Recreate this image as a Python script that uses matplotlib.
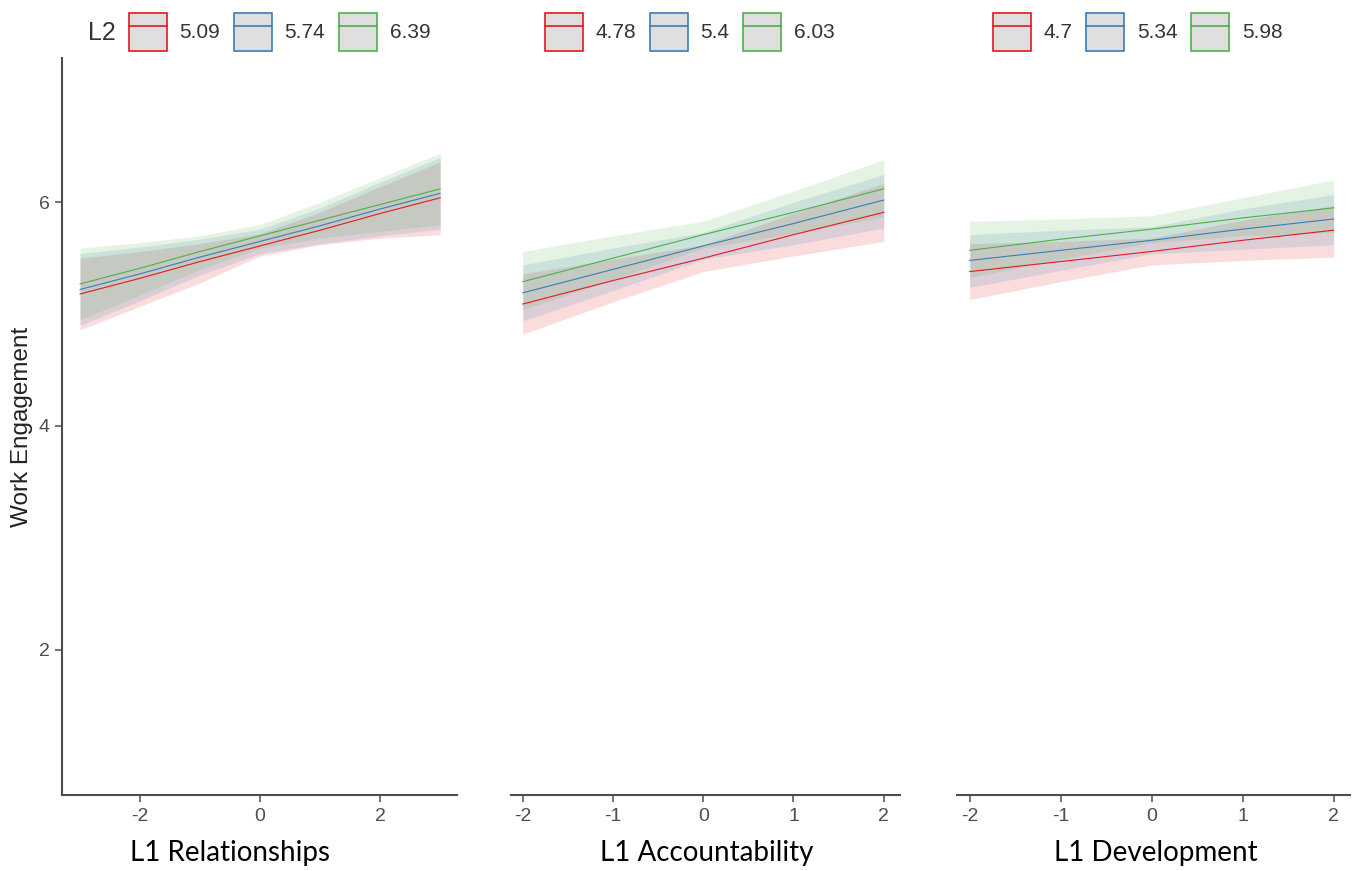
import matplotlib.pyplot as plt
from matplotlib.lines import Line2D
from matplotlib.patches import Patch

plt.rcParams['axes.unicode_minus'] = False

# predicted work engagement (line, lower CI, upper CI) for three L2 levels
rel_x = [-3, -2, -1, 0, 1, 2, 3]
rel_levels = ['5.09', '5.74', '6.39']
rel_fit = [[5.18, 5.32, 5.47, 5.61, 5.75, 5.90, 6.04],
           [5.22, 5.36, 5.51, 5.65, 5.79, 5.94, 6.08],
           [5.27, 5.41, 5.56, 5.70, 5.84, 5.98, 6.12]]
rel_lo = [[4.86, 5.07, 5.28, 5.52, 5.62, 5.68, 5.71],
          [4.90, 5.12, 5.35, 5.54, 5.63, 5.70, 5.76],
          [4.95, 5.17, 5.40, 5.59, 5.68, 5.74, 5.80]]
rel_hi = [[5.50, 5.56, 5.63, 5.72, 5.91, 6.14, 6.36],
          [5.54, 5.60, 5.67, 5.76, 5.95, 6.18, 6.40],
          [5.59, 5.64, 5.70, 5.80, 6.00, 6.22, 6.44]]

acc_x = [-2, -1, 0, 1, 2]
acc_levels = ['4.78', '5.4', '6.03']
acc_fit = [[5.09, 5.30, 5.50, 5.71, 5.91],
           [5.19, 5.40, 5.61, 5.81, 6.02],
           [5.29, 5.50, 5.71, 5.91, 6.12]]
acc_lo = [[4.82, 5.11, 5.38, 5.52, 5.65],
          [4.94, 5.21, 5.49, 5.62, 5.77],
          [5.04, 5.31, 5.59, 5.72, 5.87]]
acc_hi = [[5.36, 5.49, 5.62, 5.90, 6.17],
          [5.44, 5.59, 5.73, 6.00, 6.25],
          [5.56, 5.70, 5.83, 6.10, 6.38]]

dev_x = [-2, -1, 0, 1, 2]
dev_levels = ['4.7', '5.34', '5.98']
dev_fit = [[5.38, 5.47, 5.56, 5.66, 5.75],
           [5.48, 5.57, 5.66, 5.76, 5.85],
           [5.57, 5.67, 5.76, 5.86, 5.95]]
dev_lo = [[5.13, 5.29, 5.44, 5.48, 5.51],
          [5.24, 5.39, 5.54, 5.58, 5.62],
          [5.33, 5.49, 5.64, 5.70, 5.73]]
dev_hi = [[5.63, 5.65, 5.68, 5.84, 5.97],
          [5.71, 5.75, 5.78, 5.94, 6.07],
          [5.83, 5.85, 5.88, 6.04, 6.20]]

colors = ['#E41A1C', '#377EB8', '#4DAF4A']
axis_col = '#4d4d4d'

W, H = 1360, 871
fig = plt.figure(figsize=(W / 100, H / 100), dpi=100)

panels = [
    # left, right (px), xlim, ticks, data, x title, title centre (px), legend x (px)
    (62, 457, (-3.3, 3.28), [-2, 0, 2], rel_x, rel_fit, rel_lo, rel_hi, rel_levels,
     'L1 Relationships', 230, 129),
    (511, 900, (-2.13, 2.18), [-2, -1, 0, 1, 2], acc_x, acc_fit, acc_lo, acc_hi, acc_levels,
     'L1 Accountability', 707, 545),
    (957, 1350, (-2.14, 2.18), [-2, -1, 0, 1, 2], dev_x, dev_fit, dev_lo, dev_hi, dev_levels,
     'L1 Development', 1156, 993),
]

top, bottom = 58, 795
for i, (l, r, xlim, ticks, x, fit, lo, hi, levels, title, tx, lx) in enumerate(panels):
    ax = fig.add_axes([l / W, 1 - bottom / H, (r - l) / W, (bottom - top) / H])
    for k in range(3):
        ax.fill_between(x, lo[k], hi[k], color=colors[k], alpha=0.15, lw=0)
    for k in range(3):
        ax.plot(x, fit[k], color=colors[k], lw=0.8)

    ax.set_xlim(*xlim)
    ax.set_ylim(0.70, 7.29)
    ax.set_xticks(ticks)
    ax.set_yticks([2, 4, 6])
    for s in ['top', 'right']:
        ax.spines[s].set_visible(False)
    for s in ['left', 'bottom']:
        ax.spines[s].set_color(axis_col)
        ax.spines[s].set_linewidth(1.5)
    ax.tick_params(colors=axis_col, length=5, width=1.1, labelsize=14,
                   labelcolor='#4d4d4d', pad=4)
    for lab in ax.get_xticklabels() + ax.get_yticklabels():
        lab.set_family('Liberation Sans')
    if i == 0:
        ax.set_ylabel('Work Engagement', fontsize=17.5, color='#222222',
                      family='Liberation Sans', labelpad=4)
    else:
        ax.spines['left'].set_visible(False)
        ax.tick_params(axis='y', left=False, labelleft=False)

    handles = [(Patch(facecolor='#dfdfdf', edgecolor=c, lw=1.2),
                Line2D([], [], color=c, lw=1.2)) for c in colors]
    ax.legend(handles, levels, ncol=3, loc='center left',
              bbox_to_anchor=(lx / W, 1 - 32 / H), bbox_transform=fig.transFigure,
              frameon=False, borderpad=0, borderaxespad=0,
              handlelength=1.8, handleheight=2.4, handletextpad=0.62,
              columnspacing=0.67,
              prop={'family': 'Liberation Sans', 'size': 15},
              labelcolor='#333333')

    fig.text(tx / W, 1 - 853 / H, title, ha='center', va='center',
             fontsize=20, family='Lato', color='black')

fig.text(88 / W, 1 - 33 / H, 'L2', ha='left', va='center', fontsize=18,
         family='Liberation Sans', color='#333333')

fig.savefig('out.png', dpi=100)
